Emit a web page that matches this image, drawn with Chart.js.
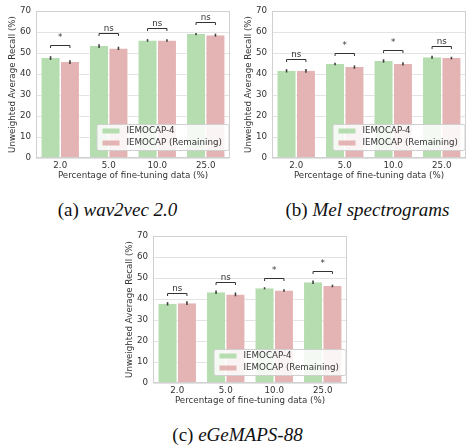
<!DOCTYPE html>
<html lang="en">
<head>
  <meta charset="UTF-8">
  <title>IEMOCAP UAR by fine-tuning data</title>
  <script src="https://cdn.jsdelivr.net/npm/chart.js"></script>
  <style>
    body { margin: 0; background: #fff; width: 470px; height: 446px; position: relative; overflow: hidden; }
    .panel { position: absolute; width: 235px; height: 185px; }
    .cap { position: absolute; font-family: "Liberation Serif", "DejaVu Serif", serif; font-size: 19px; color: #111; text-align: center; white-space: nowrap; }
    .cap i { font-style: italic; }
  </style>
</head>
<body>
  <div class="panel" style="left:0; top:0;"><canvas id="chartA" width="235" height="185"></canvas></div>
  <div class="panel" style="left:236px; top:0;"><canvas id="chartB" width="235" height="185"></canvas></div>
  <div class="panel" style="left:117px; top:225px;"><canvas id="chartC" width="235" height="185"></canvas></div>

  <div class="cap" style="left:0; width:235px; top:199px;">(a) <i>wav2vec 2.0</i></div>
  <div class="cap" style="left:250px; width:235px; top:199px;">(b) <i>Mel spectrograms</i></div>
  <div class="cap" style="left:120px; width:235px; top:424px;">(c) <i>eGeMAPS-88</i></div>

  <script>
    // fine-tuning data percentages
    const categories = ['2.0', '5.0', '10.0', '25.0'];
    const yTicks = [0, 10, 20, 30, 40, 50, 60, 70];

    // (a) wav2vec 2.0
    const w2vIemocap4 = [47.6, 53.3, 56.0, 59.0];
    const w2vRemaining = [45.7, 52.2, 56.0, 58.5];
    const w2vErr4 = [0.9, 0.9, 0.6, 0.5];
    const w2vErrRem = [0.9, 0.8, 0.6, 0.7];
    const w2vSig = ['*', 'ns', 'ns', 'ns'];
    const w2vSigY = [53.6, 59.4, 61.8, 64.6];

    // (b) Mel spectrograms
    const melIemocap4 = [41.5, 44.8, 46.2, 48.0];
    const melRemaining = [41.5, 43.3, 44.8, 47.6];
    const melErr4 = [0.8, 0.6, 0.8, 0.7];
    const melErrRem = [0.9, 0.8, 0.8, 0.6];
    const melSig = ['ns', '*', '*', 'ns'];
    const melSigY = [47.2, 49.9, 51.3, 53.1];

    // (c) eGeMAPS-88
    const egeIemocap4 = [37.7, 43.2, 45.1, 48.0];
    const egeRemaining = [38.0, 42.2, 44.1, 46.2];
    const egeErr4 = [0.8, 0.8, 0.5, 0.8];
    const egeErrRem = [0.9, 0.9, 0.6, 0.6];
    const egeSig = ['ns', 'ns', '*', '*'];
    const egeSigY = [42.9, 48.3, 50.2, 53.2];

    const labels = ['IEMOCAP-4', 'IEMOCAP (Remaining)'];
    const green = 'rgb(181,221,176)';
    const red = 'rgb(228,180,180)';
    const textColor = '#333333';
    const font = { family: 'DejaVu Sans', size: 8.7 };

    // error bars, significance brackets, frame and legend
    const extras = {
      id: 'extras',
      afterDatasetsDraw(chart, args, opts) {
        const ctx = chart.ctx;
        const y = chart.scales.y;
        const area = chart.chartArea;
        ctx.save();

        // error bars
        ctx.strokeStyle = '#404040';
        ctx.lineWidth = 1.6;
        [opts.err4, opts.errRem].forEach((errs, di) => {
          const meta = chart.getDatasetMeta(di);
          meta.data.forEach((bar, i) => {
            const v = chart.data.datasets[di].data[i];
            ctx.beginPath();
            ctx.moveTo(bar.x, y.getPixelForValue(v - errs[i]));
            ctx.lineTo(bar.x, y.getPixelForValue(v + errs[i]));
            ctx.stroke();
          });
        });

        // significance brackets
        ctx.strokeStyle = '#333';
        ctx.lineWidth = 1;
        ctx.fillStyle = textColor;
        ctx.font = '8.7px "DejaVu Sans"';
        ctx.textAlign = 'center';
        ctx.textBaseline = 'bottom';
        const m0 = chart.getDatasetMeta(0), m1 = chart.getDatasetMeta(1);
        opts.sig.forEach((s, i) => {
          const x0 = m0.data[i].x, x1 = m1.data[i].x;
          const py = Math.round(y.getPixelForValue(opts.sigY[i])) + 0.5;
          ctx.beginPath();
          ctx.moveTo(x0, py + 2.5);
          ctx.lineTo(x0, py);
          ctx.lineTo(x1, py);
          ctx.lineTo(x1, py + 2.5);
          ctx.stroke();
          if (s === '*') {
            ctx.fillText(s, (x0 + x1) / 2, py - 3);
          } else {
            ctx.fillText(s, (x0 + x1) / 2, py - 0.5);
          }
        });

        // frame
        ctx.strokeStyle = '#d0d0d0';
        ctx.lineWidth = 1;
        ctx.strokeRect(area.left + 0.5, area.top + 0.5, area.right - area.left - 1, area.bottom - area.top - 1);

        // legend box, lower right
        const bw = 132, bh = 26;
        const bx = area.right - bw - 1.5, by = area.bottom - bh - 8;
        ctx.fillStyle = 'rgba(255,255,255,0.85)';
        ctx.strokeStyle = '#d0d0d0';
        ctx.beginPath();
        ctx.roundRect(bx + 0.5, by + 0.5, bw, bh, 2);
        ctx.fill();
        ctx.stroke();
        ctx.textAlign = 'left';
        ctx.textBaseline = 'middle';
        chart.data.datasets.forEach((ds, di) => {
          const ry = by + 7 + di * 12;
          ctx.fillStyle = ds.backgroundColor;
          ctx.fillRect(bx + 6, ry - 2.5, 17, 5);
          ctx.fillStyle = textColor;
          ctx.fillText(ds.label, bx + 30, ry);
        });
        ctx.restore();
      }
    };

    function createChart(id, a, b, err4, errRem, sig, sigY) {
      new Chart(document.getElementById(id), {
        type: 'bar',
        data: {
          labels: categories,
          datasets: [
            { label: labels[0], data: a, backgroundColor: green, borderColor: '#fff', borderWidth: { left: 0.5, right: 0.5 } },
            { label: labels[1], data: b, backgroundColor: red, borderColor: '#fff', borderWidth: { left: 0.5, right: 0.5 } }
          ]
        },
        options: {
          responsive: false,
          animation: false,
          layout: { padding: { top: 11, right: 5, left: 0, bottom: 0 } },
          datasets: { bar: { categoryPercentage: 0.8, barPercentage: 0.98 } },
          plugins: {
            legend: { display: false },
            tooltip: { enabled: false },
            extras: { err4, errRem, sig, sigY }
          },
          scales: {
            x: {
              grid: { display: false, drawTicks: false },
              border: { display: false },
              ticks: { color: textColor, font, padding: 3 },
              title: { display: true, text: 'Percentage of fine-tuning data (%)', color: textColor, font, padding: { top: 0, bottom: 4 } },
              afterFit(scale) { scale.height = 27; }
            },
            y: {
              min: 0, max: 70,
              afterBuildTicks(scale) { scale.ticks = yTicks.map(v => ({ value: v })); },
              grid: { color: '#e3e3e3', lineWidth: 1, drawTicks: false },
              border: { display: false },
              ticks: { color: textColor, font, padding: 5 },
              title: { display: true, text: 'Unweighted Average Recall (%)', color: textColor, font, padding: { top: 8, bottom: 0 } },
              afterFit(scale) { scale.width = 36; }
            }
          }
        },
        plugins: [extras]
      });
    }

    createChart('chartA', w2vIemocap4, w2vRemaining, w2vErr4, w2vErrRem, w2vSig, w2vSigY);
    createChart('chartB', melIemocap4, melRemaining, melErr4, melErrRem, melSig, melSigY);
    createChart('chartC', egeIemocap4, egeRemaining, egeErr4, egeErrRem, egeSig, egeSigY);
  </script>
</body>
</html>
